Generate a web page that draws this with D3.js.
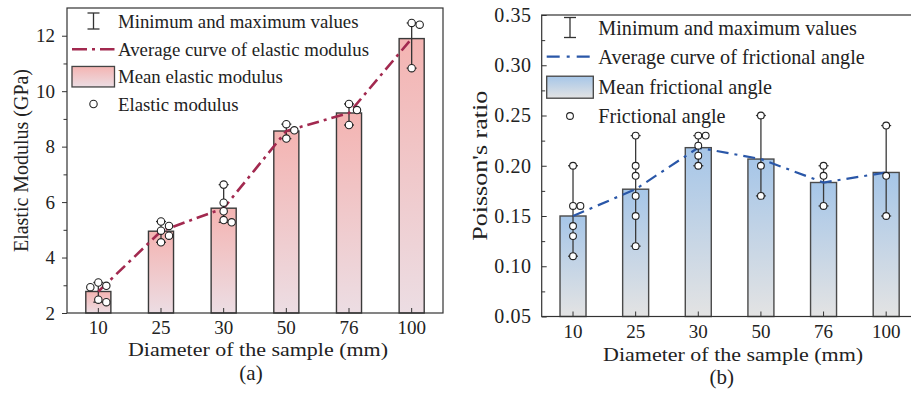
<!DOCTYPE html>
<html><head><meta charset="utf-8">
<script src="https://cdn.jsdelivr.net/npm/d3@7"></script>
<style>
body{margin:0;background:#fff}
svg{display:block;background:#fff}
text{font-family:"Liberation Serif","Times New Roman",serif;fill:#222}
</style>
</head><body>
<svg id="c" width="911" height="394"></svg>
<script>
// ---------- data ----------
const categories = ["10", "25", "30", "50", "76", "100"];
const elasticPoints = [
  [2.98, 2.93, 3.10, 2.48, 2.39],
  [5.30, 5.14, 4.97, 4.79, 4.55],
  [6.63, 5.98, 5.67, 5.35, 5.27],
  [8.81, 8.59, 8.29],
  [9.54, 9.32, 8.78],
  [12.46, 12.40, 10.83]
];
const poissonPoints = [
  [0.20, 0.16, 0.16, 0.14, 0.13, 0.11],
  [0.23, 0.20, 0.19, 0.17, 0.15, 0.12],
  [0.23, 0.23, 0.22, 0.21, 0.20],
  [0.25, 0.20, 0.17],
  [0.20, 0.19, 0.16],
  [0.24, 0.19, 0.15]
];
const elasticTicks = [2, 4, 6, 8, 10, 12];
const elasticMinorTicks = [3, 5, 7, 9, 11];
const poissonTicks = [0.05, 0.10, 0.15, 0.20, 0.25, 0.30, 0.35];
const poissonMinorTicks = [0.075, 0.125, 0.175, 0.225, 0.275, 0.325];
const legendA = ["Minimum and maximum values", "Average curve of elastic modulus", "Mean elastic modulus", "Elastic modulus"];
const legendB = ["Minimum and maximum values", "Average curve of frictional angle", "Mean frictional angle", "Frictional angle"];
const xTitle = "Diameter of the sample (mm)";

const svg = d3.select("#c");
const defs = svg.append("defs");

function grad(id, top, bottom) {
  const g = defs.append("linearGradient").attr("id", id)
    .attr("x1", 0).attr("y1", 0).attr("x2", 0).attr("y2", 1);
  g.append("stop").attr("offset", "0%").attr("stop-color", top);
  g.append("stop").attr("offset", "100%").attr("stop-color", bottom);
}
grad("gA", "#f4b4b2", "#ecdde3");
grad("gB", "#a6c6e8", "#e3e3e3");

function panel(o) {
  const g = svg.append("g");
  const x = d3.scaleBand().domain(categories).range([o.left, o.right])
    .paddingInner(o.pad).paddingOuter(o.pad / 2);
  const y = d3.scaleLinear().domain(o.domain).range([o.bottom, o.top]);
  const means = o.points.map(p => d3.mean(p));
  const cx = c => x(c) + x.bandwidth() / 2;

  // bars
  g.selectAll("rect.bar").data(categories).join("rect").attr("class", "bar")
    .attr("x", c => x(c)).attr("width", x.bandwidth())
    .attr("y", (c, i) => y(means[i])).attr("height", (c, i) => o.bottom - y(means[i]))
    .attr("fill", `url(#${o.grad})`).attr("stroke", o.barStroke).attr("stroke-width", 1.4);

  // axes
  const ya = g.append("g").attr("transform", `translate(${o.left},0)`)
    .call(d3.axisLeft(y).tickValues(o.ticks).tickSize(o.ytick).tickSizeOuter(0)
      .tickPadding(o.ypad).tickFormat(o.fmt));
  ya.select(".domain").remove();
  ya.selectAll("line").attr("stroke", "#333");
  ya.selectAll("text").attr("font-size", o.yFont).attr("fill", "#222")
    .attr("letter-spacing", o.yLetter || 0);
  const ym = g.append("g").attr("transform", `translate(${o.left},0)`)
    .call(d3.axisLeft(y).tickValues(o.minor).tickSize(o.ytick * 0.7).tickSizeOuter(0).tickFormat(""));
  ym.select(".domain").remove();
  ym.selectAll("line").attr("stroke", "#333");

  const xa = g.append("g").attr("transform", `translate(0,${o.bottom})`)
    .call(d3.axisBottom(x).tickSize(-5).tickSizeOuter(0).tickPadding(o.xpad));
  xa.select(".domain").remove();
  xa.selectAll("line").attr("stroke", "#333");
  xa.selectAll("text").attr("font-size", 19).attr("fill", "#222");

  // frame
  g.append("rect").attr("x", o.left).attr("y", o.top)
    .attr("width", o.right - o.left).attr("height", o.bottom - o.top)
    .attr("fill", "none").attr("stroke", "#333").attr("stroke-width", 1.2);

  // error bars
  const eb = g.append("g").attr("stroke", o.errStroke).attr("stroke-width", 1.3);
  categories.forEach((c, i) => {
    const lo = d3.min(o.points[i]), hi = d3.max(o.points[i]);
    eb.append("line").attr("x1", cx(c)).attr("x2", cx(c)).attr("y1", y(lo)).attr("y2", y(hi));
    [lo, hi].forEach(v => eb.append("line").attr("x1", cx(c) - 5).attr("x2", cx(c) + 5)
      .attr("y1", y(v)).attr("y2", y(v)));
  });

  // average line
  g.append("path").datum(categories)
    .attr("d", d3.line().x(c => cx(c)).y((c, i) => y(means[i])))
    .attr("fill", "none").attr("stroke", o.lineColor).attr("stroke-width", o.lineWidth)
    .attr("stroke-dasharray", o.dash);

  // points with simple dodge
  const r = o.r, d = 2 * r + 0.6;
  categories.forEach((c, i) => {
    const placed = [];
    const vals = o.points[i].slice().sort((a, b) => b - a);
    vals.forEach(v => {
      const py = y(v);
      const cands = [0, d, -d, 2 * d, -2 * d];
      let dx = 0;
      for (const k of cands) {
        if (placed.every(p => Math.hypot(p.dx - k, p.py - py) >= 2 * r)) { dx = k; break; }
      }
      placed.push({dx, py});
    });
    g.selectAll(null).data(placed).join("circle")
      .attr("cx", p => cx(c) + p.dx).attr("cy", p => p.py).attr("r", r)
      .attr("fill", "#fff").attr("stroke", "#222").attr("stroke-width", 1.1);
  });

  // legend
  const L = o.legend, lg = g.append("g");
  const rows = L.rows;
  lg.append("g").attr("stroke", "#333").attr("stroke-width", 1.3).call(s => {
    s.append("line").attr("x1", L.icx).attr("x2", L.icx).attr("y1", rows[0] - L.eh / 2).attr("y2", rows[0] + L.eh / 2);
    s.append("line").attr("x1", L.icx - 6).attr("x2", L.icx + 6).attr("y1", rows[0] - L.eh / 2).attr("y2", rows[0] - L.eh / 2);
    s.append("line").attr("x1", L.icx - 6).attr("x2", L.icx + 6).attr("y1", rows[0] + L.eh / 2).attr("y2", rows[0] + L.eh / 2);
  });
  lg.append("line").attr("x1", L.x0).attr("x2", L.x1).attr("y1", rows[1]).attr("y2", rows[1])
    .attr("stroke", o.lineColor).attr("stroke-width", o.lineWidth).attr("stroke-dasharray", o.legDash);
  lg.append("rect").attr("x", L.x0).attr("y", rows[2] - L.sh / 2).attr("width", L.x1 - L.x0).attr("height", L.sh)
    .attr("fill", `url(#${o.grad})`).attr("stroke", "#444").attr("stroke-width", 1.3);
  lg.append("circle").attr("cx", L.icx).attr("cy", rows[3]).attr("r", o.r)
    .attr("fill", "#fff").attr("stroke", "#222").attr("stroke-width", 1.1);
  lg.selectAll("text").data(o.legendText).join("text")
    .attr("x", L.tx).attr("y", (t, i) => rows[i]).attr("dy", "0.35em")
    .attr("font-size", L.font).text(t => t);

  // titles
  g.append("text").attr("x", (o.left + o.right) / 2 + o.xtOff).attr("y", o.xtY)
    .attr("text-anchor", "middle").attr("font-size", 19.5)
    .attr("textLength", 260).attr("lengthAdjust", "spacingAndGlyphs").text(xTitle);
  g.append("text").attr("transform", `translate(${o.ytX},${(o.top + o.bottom) / 2}) rotate(-90)`)
    .attr("text-anchor", "middle").attr("dy", "0.35em").attr("font-size", o.ytFont)
    .attr("textLength", o.ytLen).attr("lengthAdjust", "spacingAndGlyphs").text(o.yTitle);
  g.append("text").attr("x", o.capX).attr("y", o.capY).attr("text-anchor", "middle")
    .attr("font-size", 21).text(o.caption);
}

panel({
  left: 67, right: 443, top: 8, bottom: 313, pad: 0.6,
  domain: [2, 13], ticks: elasticTicks, minor: elasticMinorTicks, fmt: d3.format("d"),
  ytick: 5, ypad: 7, yFont: 19, xpad: 8,
  points: elasticPoints, grad: "gA", barStroke: "#3a3a3a", errStroke: "#333",
  lineColor: "#a2294f", lineWidth: 2.6, dash: "12,5,3,5", legDash: "15,5,3,5", r: 3.7,
  legend: {rows: [21, 49.3, 76.7, 104], icx: 93.5, eh: 16, x0: 72, x1: 114.5, sh: 20.5, tx: 118, font: 18.8},
  legendText: legendA,
  xtOff: 3, xtY: 356, ytX: 21, ytFont: 20, ytLen: 183, yTitle: "Elastic Modulus (GPa)",
  capX: 251, capY: 380, caption: "(a)"
});
panel({
  left: 541.7, right: 917.5, top: 15, bottom: 316.5, pad: 0.585,
  domain: [0.05, 0.35], ticks: poissonTicks, minor: poissonMinorTicks, fmt: d3.format(".2f"),
  ytick: -5, ypad: 10, yFont: 20, yLetter: 0.6, xpad: 8,
  points: poissonPoints, grad: "gB", barStroke: "#4a4a4a", errStroke: "#3a3a3a",
  lineColor: "#2a57a8", lineWidth: 2.2, dash: "12,6,3,6", legDash: "13,7,3,7", r: 3.4,
  legend: {rows: [27.5, 56.7, 87.2, 116], icx: 570, eh: 20, x0: 546.7, x1: 593.3, sh: 22, tx: 598.3, font: 20.2},
  legendText: legendB,
  xtOff: 3.5, xtY: 360.5, ytX: 480, ytFont: 21, ytLen: 150, yTitle: "Poisson's ratio",
  capX: 721.7, capY: 384, caption: "(b)"
});
</script>
</body></html>
